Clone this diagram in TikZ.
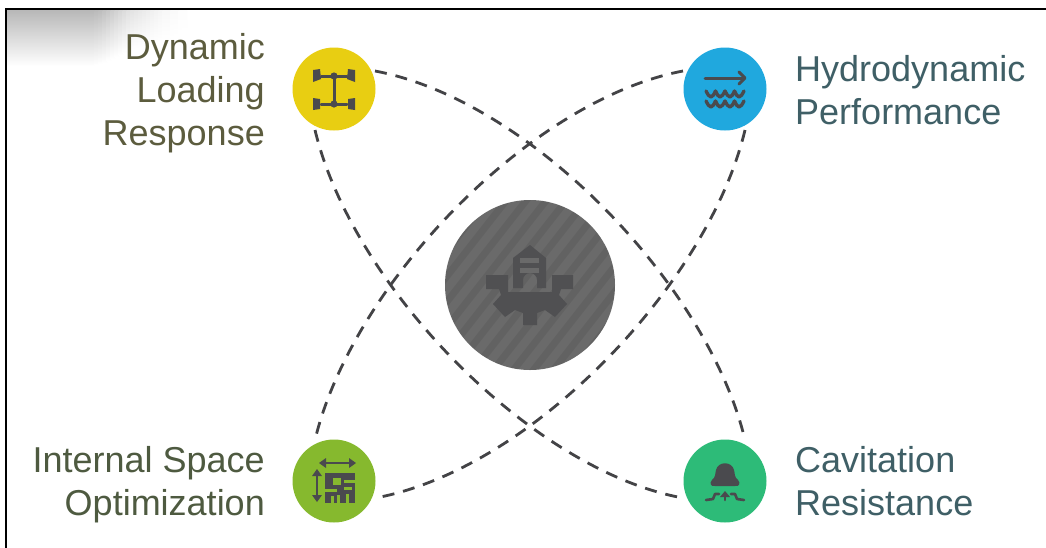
\documentclass[tikz,border=0pt]{standalone}
\usepackage{fontspec}
\setmainfont{Liberation Sans}
\definecolor{cdark}{HTML}{4A4A4E}
\definecolor{cyellow}{HTML}{E8CE12}
\definecolor{cblue}{HTML}{20A8DE}
\definecolor{cgreen}{HTML}{86B92E}
\definecolor{cteal}{HTML}{2DBB78}
\definecolor{cgray}{HTML}{6A6A6A}
\definecolor{cgear}{HTML}{505052}
\definecolor{tolive}{HTML}{5C5C3E}
\definecolor{tteal}{HTML}{3F5F66}
\definecolor{tgreen}{HTML}{4E5A40}
\tikzset{
  link/.style={draw=cdark!90!black,line width=2.8pt,dash pattern=on 12pt off 9pt},
  lab/.style={font=\fontsize{36}{43}\selectfont,inner sep=0pt,align=left},
  labr/.style={font=\fontsize{36}{43}\selectfont,inner sep=0pt,align=right},
  dot/.style={circle,inner sep=0pt,minimum size=83pt},
  ico/.style={draw=cdark,line width=3pt,line cap=round,line join=round},
}
\begin{document}
\begin{tikzpicture}[x=1pt,y=-1pt]
\useasboundingbox (0,0) rectangle (1046,547);
\fill[white] (0,0) rectangle (1046,547);
\begin{scope}
  \clip (7,10) rectangle (200,80);
  \foreach \x in {7,11,...,91} {
    \shade[top color=black!28,bottom color=white] (\x,10) rectangle (\x+4.5,66);
  }
  \foreach \x/\l/\b in {95/27/65,99/26/64,103/24/63,107/22/61,111/20/59,115/18/57,119/16/55,123/14/53,127/12/51,131/11/49,135/10/48,139/9/47,143/8/46,147/7/45,151/6/44,155/5/43,159/4/42,163/3/41,167/3/40,171/2/38,175/2/36,179/1/34,183/1/32}{
    \shade[top color=black!\l,bottom color=white] (\x-.5,10) rectangle (\x+4,\b);
  }
\end{scope}
\draw[black,line width=2pt] (6,548) -- (6,9) -- (1046,9);

\node[dot,fill=cyellow] (n1) at (334,89) {};
\node[dot,fill=cblue] (n2) at (725,89) {};
\node[dot,fill=cgreen] (n3) at (334,481) {};
\node[dot,fill=cteal] (n4) at (725,481) {};
\node[circle,inner sep=0pt,minimum size=170pt,fill=cgray] (hub) at (530,285) {};

\coordinate (a1) at (375,71);
\coordinate (a2) at (745,440);
\coordinate (b1) at (315,130);
\coordinate (b2) at (683,498);
\coordinate (c1) at (683,71);
\coordinate (c2) at (315,440);
\coordinate (d1) at (745,130);
\coordinate (d2) at (375,498);
\draw[link] (a1) .. controls (530,100) and (708,285) .. (a2);
\draw[link] (b1) .. controls (352,285) and (530,470) .. (b2);
\draw[link] (c1) .. controls (530,100) and (352,285) .. (c2);
\draw[link] (d1) .. controls (708,285) and (530,470) .. (d2);

% stripes
\begin{scope}
  \clip (530,285) circle (85);
  \foreach \i in {0,...,18} {
    \draw[black,line width=7pt,opacity=.07] (290+\i*20,400) -- (470+\i*20,170);
  }
\end{scope}

% hub icon: gear and tower
\begin{scope}[shift={(530,285)}]
  \fill[cgear] (-44,-10) -- (-22,-10) -- (-22,7) -- (22,7) -- (22,-10) -- (43,-10) -- (43,4) -- (31,4) -- (29,10) -- (37,19) -- (25,32) -- (15,25) -- (7,28) -- (7,40) -- (-7,40) -- (-7,28) -- (-15,25) -- (-25,32) -- (-37,19) -- (-29,10) -- (-31,4) -- (-44,4) -- cycle;
  \fill[cgear] (-17,3) -- (-17,-27) -- (0,-40) -- (16,-27) -- (16,3) -- (7,3) -- (7,-5) arc[start angle=0,end angle=-180,radius=7] -- (-7,3) -- cycle;
  \fill[cgray] (-10,-27) rectangle (9,-22);
  \fill[cgray] (-10,-17) rectangle (9,-12);
\end{scope}

% icon: axle
\begin{scope}[shift={(334,89)}]
  \draw[ico] (-13,-13) -- (13,-13) (-13,15) -- (13,15) (0,-13) -- (0,15);
  \fill[cdark] (0,-13) circle (3.6) (0,15) circle (3.6);
  \fill[cdark] (-21,-19) -- (-14,-20) -- (-13,-10) -- (-21,-7) -- cycle (14,-20) -- (21,-19) -- (21,-7) -- (13,-10) -- cycle;
  \fill[cdark] (-21,9) -- (-14,10) -- (-14,20) -- (-21,21) -- cycle (14,10) -- (21,9) -- (21,21) -- (14,20) -- cycle;
\end{scope}

% icon: flow
\begin{scope}[shift={(725,89)}]
  \draw[ico] (-20,-11) -- (18,-11);
  \draw[ico] (14,-17) -- (20,-11) -- (14,-5);
  \draw[ico,line width=3.4pt] (-19,2) sin (-14,8) cos (-9.5,2) sin (-5,8) cos (0,2) sin (5,8) cos (9.5,2) sin (14,8) cos (19,2);
  \draw[ico,line width=3.4pt] (-19,12) sin (-14,18) cos (-9.5,12) sin (-5,18) cos (0,12) sin (5,18) cos (9.5,12) sin (14,18) cos (19,12);
\end{scope}

% icon: plan
\begin{scope}[shift={(334,481)}]
  \draw[ico,line width=2.6pt] (-11,-18) -- (18,-18);
  \fill[cdark] (-15,-18) -- (-8,-23) -- (-8,-13) -- cycle (22,-18) -- (15,-23) -- (15,-13) -- cycle;
  \draw[ico,line width=2.6pt] (-17,-8) -- (-17,17);
  \fill[cdark] (-17,-12) -- (-22,-5) -- (-12,-5) -- cycle (-17,21) -- (-22,14) -- (-12,14) -- cycle;
  \fill[cdark] (-9,-8) rectangle (21,22);
  \fill[cgreen] (-1,-3) rectangle (7,4);
  \fill[cgreen] (10,-1) rectangle (21,1.5);
  \fill[cgreen] (10,6) rectangle (18,8.5);
  \fill[cgreen] (-9,8) rectangle (3,10.5);
  \fill[cgreen] (3,14) rectangle (5.5,22);
  \fill[cgreen] (12,13) rectangle (14.5,22);
  \fill[cgreen] (-3,15) rectangle (-.5,22);
\end{scope}

% icon: bell
\begin{scope}[shift={(725,481)}]
  \fill[cdark] (-13,-1) .. controls (-9,-4) and (-10,-8) .. (-9,-11) .. controls (-7,-20) and (7,-20) .. (9,-11) .. controls (10,-8) and (9,-4) .. (13,-1) .. controls (16,2) and (14,6) .. (10,5) -- (-10,5) .. controls (-14,6) and (-16,2) .. (-13,-1) -- cycle;
  \draw[ico,line width=2.6pt] (-19,19) -- (-12,18) -- (-10,13) -- (-6,13);
  \draw[ico,line width=2.6pt] (19,19) -- (12,18) -- (10,13) -- (6,13);
  \draw[ico,line width=2.6pt] (0,19) -- (0,15);
  \fill[cdark] (0,10) -- (-5,16) -- (5,16) -- cycle;
\end{scope}

\node[labr,text=tolive,anchor=north east] (t1) at (265,33) {Dynamic\\Loading\\Response};
\node[lab,text=tteal,anchor=north west] (t2) at (795,55) {Hydrodynamic\\Performance};
\node[labr,text=tgreen,anchor=north east] (t3) at (265,446) {Internal Space\\Optimization};
\node[lab,text=tteal,anchor=north west] (t4) at (795,446) {Cavitation\\Resistance};
\end{tikzpicture}
\end{document}
